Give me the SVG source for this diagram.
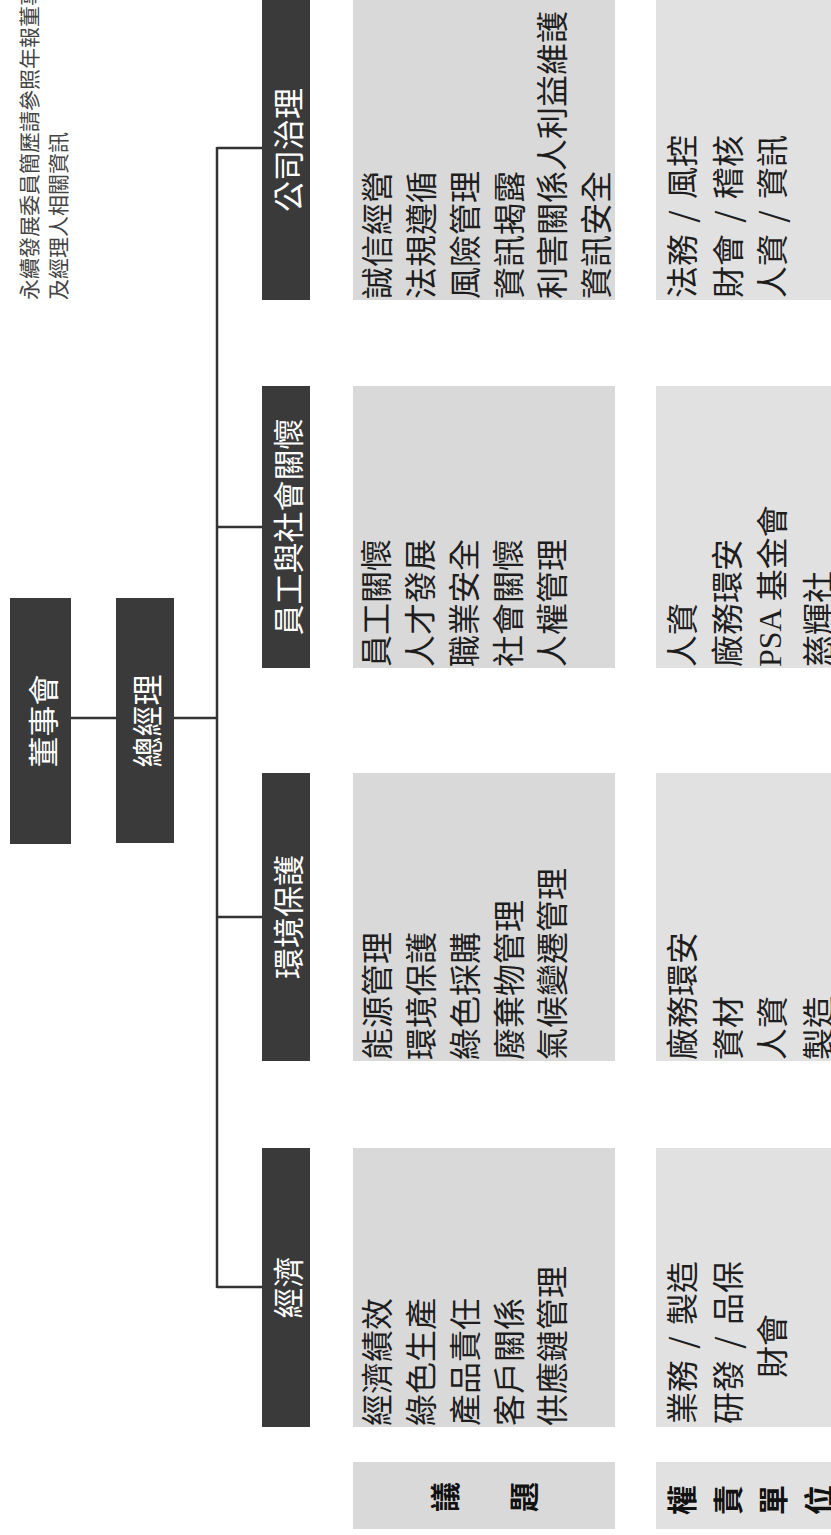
<svg xmlns="http://www.w3.org/2000/svg" width="831" height="1535" viewBox="0 0 831 1535">
<style>
.dark{fill:#3a3a3a}
.g1{fill:#d9d9d9}
.g2{fill:#e1e1e1}
.wl{font-family:"Noto Sans CJK TC","Noto Sans CJK SC",sans-serif;font-size:31px;fill:#ffffff;text-anchor:middle;dominant-baseline:central}
.t{font-family:"Noto Sans CJK TC","Noto Sans CJK SC",sans-serif;font-size:32px;fill:#1e1e1e;dominant-baseline:central}
.sl{word-spacing:4px}
.note{font-family:"Noto Sans CJK TC","Noto Sans CJK SC",sans-serif;font-size:21px;fill:#444444;dominant-baseline:central}
.hd{font-family:"Noto Sans CJK TC","Noto Sans CJK SC",sans-serif;font-size:30px;font-weight:bold;fill:#111111;text-anchor:middle;dominant-baseline:central}
.ser{font-family:"Liberation Serif",serif}
.ln{stroke:#333333;stroke-width:2.5;fill:none}
</style>

<g id="note">
<text class="note" transform="translate(28 300) rotate(-90)">永續發展委員簡歷請參照年報董事</text>
<text class="note" transform="translate(57 300) rotate(-90)">及經理人相關資訊</text>
</g>

<g id="connectors">
<line class="ln" x1="71" y1="718" x2="116" y2="718"/>
<line class="ln" x1="174" y1="718" x2="217" y2="718"/>
<line class="ln" x1="217" y1="147" x2="217" y2="1288"/>
<line class="ln" x1="217" y1="148" x2="262" y2="148"/>
<line class="ln" x1="217" y1="527" x2="262" y2="527"/>
<line class="ln" x1="217" y1="917" x2="262" y2="917"/>
<line class="ln" x1="217" y1="1287" x2="262" y2="1287"/>
</g>

<g id="board">
<rect class="dark" x="10" y="598" width="61" height="246"/>
<text class="wl" transform="translate(41 721) rotate(-90)">董事會</text>
</g>
<g id="gm">
<rect class="dark" x="116" y="598" width="58" height="245"/>
<text class="wl" transform="translate(145 721) rotate(-90)">總經理</text>
</g>

<g id="cat-gov">
<rect class="dark" x="262" y="-2" width="48" height="302"/>
<text class="wl" transform="translate(286 150) rotate(-90)">公司治理</text>
</g>
<g id="cat-emp">
<rect class="dark" x="262" y="386" width="48" height="282"/>
<text class="wl" transform="translate(286 527) rotate(-90)">員工與社會關懷</text>
</g>
<g id="cat-env">
<rect class="dark" x="262" y="773" width="48" height="288"/>
<text class="wl" transform="translate(286 917) rotate(-90)">環境保護</text>
</g>
<g id="cat-eco">
<rect class="dark" x="262" y="1148" width="48" height="279"/>
<text class="wl" transform="translate(286 1287.5) rotate(-90)">經濟</text>
</g>

<g id="issues-gov">
<rect class="g1" x="353" y="-2" width="262" height="302"/>
<text class="t" transform="translate(375 299) rotate(-90)">誠信經營</text>
<text class="t" transform="translate(419 299) rotate(-90)">法規遵循</text>
<text class="t" transform="translate(463 299) rotate(-90)">風險管理</text>
<text class="t" transform="translate(507 299) rotate(-90)">資訊揭露</text>
<text class="t" transform="translate(550 299) rotate(-90)">利害關係人利益維護</text>
<text class="t" transform="translate(594 299) rotate(-90)">資訊安全</text>
</g>
<g id="units-gov">
<rect class="g2" x="656" y="-2" width="177" height="302"/>
<text class="t sl" xml:space="preserve" transform="translate(680 298) rotate(-90)">法務 / 風控</text>
<text class="t sl" xml:space="preserve" transform="translate(726 298) rotate(-90)">財會 / 稽核</text>
<text class="t sl" xml:space="preserve" transform="translate(770 298) rotate(-90)">人資 / 資訊</text>
</g>

<g id="issues-emp">
<rect class="g1" x="353" y="386" width="262" height="282"/>
<text class="t" transform="translate(374 667) rotate(-90)">員工關懷</text>
<text class="t" transform="translate(418 667) rotate(-90)">人才發展</text>
<text class="t" transform="translate(462 667) rotate(-90)">職業安全</text>
<text class="t" transform="translate(506 667) rotate(-90)">社會關懷</text>
<text class="t" transform="translate(550 667) rotate(-90)">人權管理</text>
</g>
<g id="units-emp">
<rect class="g2" x="656" y="386" width="177" height="282"/>
<text class="t" transform="translate(680 667) rotate(-90)">人資</text>
<text class="t" transform="translate(725 667) rotate(-90)">廠務環安</text>
<text class="t" transform="translate(770 667) rotate(-90)"><tspan class="ser">PSA</tspan> 基金會</text>
<text class="t" transform="translate(816 667) rotate(-90)">慈輝社</text>
</g>

<g id="issues-env">
<rect class="g1" x="353" y="773" width="262" height="288"/>
<text class="t" transform="translate(375 1060) rotate(-90)">能源管理</text>
<text class="t" transform="translate(419 1060) rotate(-90)">環境保護</text>
<text class="t" transform="translate(463 1060) rotate(-90)">綠色採購</text>
<text class="t" transform="translate(507 1060) rotate(-90)">廢棄物管理</text>
<text class="t" transform="translate(550 1060) rotate(-90)">氣候變遷管理</text>
</g>
<g id="units-env">
<rect class="g2" x="656" y="773" width="177" height="288"/>
<text class="t" transform="translate(680 1060) rotate(-90)">廠務環安</text>
<text class="t" transform="translate(726 1060) rotate(-90)">資材</text>
<text class="t" transform="translate(770 1060) rotate(-90)">人資</text>
<text class="t" transform="translate(816 1060) rotate(-90)">製造</text>
</g>

<g id="issues-eco">
<rect class="g1" x="353" y="1148" width="262" height="279"/>
<text class="t" transform="translate(375 1426) rotate(-90)">經濟績效</text>
<text class="t" transform="translate(419 1426) rotate(-90)">綠色生產</text>
<text class="t" transform="translate(463 1426) rotate(-90)">產品責任</text>
<text class="t" transform="translate(507 1426) rotate(-90)">客戶關係</text>
<text class="t" transform="translate(550 1426) rotate(-90)">供應鏈管理</text>
</g>
<g id="units-eco">
<rect class="g2" x="656" y="1148" width="177" height="279"/>
<text class="t sl" xml:space="preserve" transform="translate(680 1424) rotate(-90)">業務 / 製造</text>
<text class="t sl" xml:space="preserve" transform="translate(726 1424) rotate(-90)">研發 / 品保</text>
<text class="t" transform="translate(770 1378) rotate(-90)">財會</text>
</g>

<g id="label-issues">
<rect class="g1" x="353" y="1462" width="262" height="67"/>
<text class="hd" transform="translate(443 1497) rotate(-90)">議</text>
<text class="hd" transform="translate(522 1497) rotate(-90)">題</text>
</g>
<g id="label-units">
<rect class="g2" x="656" y="1462" width="177" height="67"/>
<text class="hd" transform="translate(680 1500) rotate(-90)">權</text>
<text class="hd" transform="translate(726 1500) rotate(-90)">責</text>
<text class="hd" transform="translate(771 1500) rotate(-90)">單</text>
<text class="hd" transform="translate(817 1500) rotate(-90)">位</text>
</g>
</svg>
